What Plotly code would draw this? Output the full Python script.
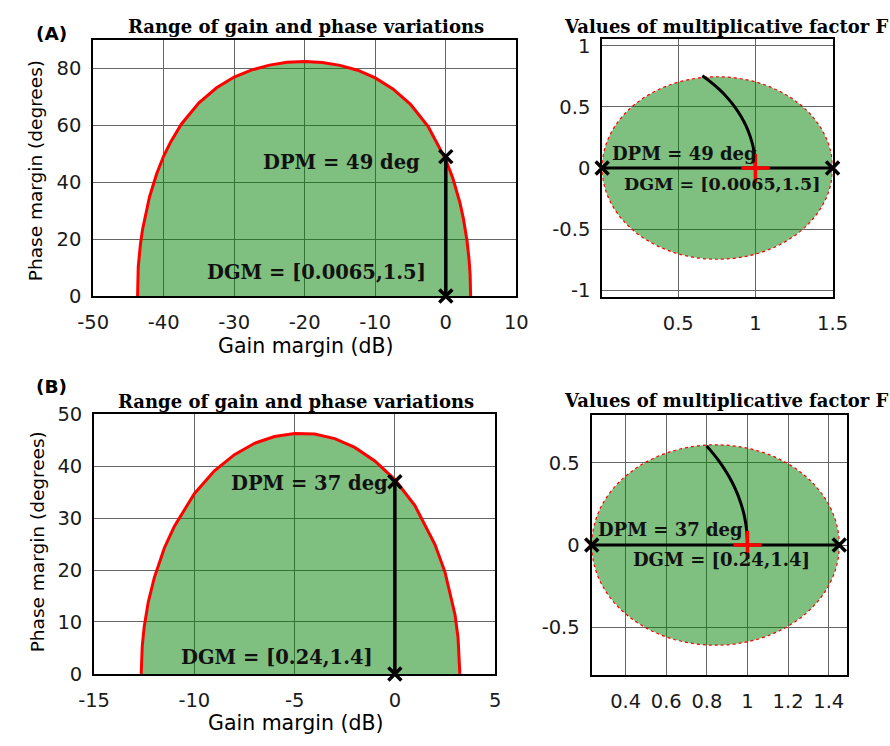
import plotly.graph_objects as go

# ---------------- data ----------------
# Panel A: gain-phase boundary
gain_A_db = [-43.7, -43.6, -43.3, -43.0, -42.0, -41.0, -40.0, -39.0, -37.5, -35.0, -32.5, -30.0,
             -27.5, -25.0, -22.5, -20.0, -17.5, -15.0, -12.5, -10.0, -7.5, -5.0, -2.5, 0.0,
             1.0, 2.0, 2.5, 3.0, 3.3, 3.45, 3.52]
phase_A = [0, 10.3, 18.0, 23.3, 34.9, 42.9, 49.2, 54.2, 60.4, 67.9, 73.2, 77.0,
           79.5, 81.2, 82.2, 82.5, 82.1, 81.1, 79.4, 76.7, 72.8, 67.4, 59.6, 47.9,
           41.4, 32.8, 27.1, 19.6, 12.8, 7.3, 0]
dpm_A = 49
dgm_A = [0.0065, 1.5]
arc_A_re = [1.0, 0.996, 0.985, 0.966, 0.940, 0.906, 0.866, 0.819, 0.766, 0.707, 0.656]
arc_A_im = [0.0, 0.087, 0.174, 0.259, 0.342, 0.423, 0.500, 0.574, 0.643, 0.707, 0.755]

# Panel B
gain_B_db = [-12.65, -12.6, -12.5, -12.3, -12.0, -11.5, -11.0, -10.0, -9.0, -8.0, -7.0, -6.0,
             -5.0, -4.0, -3.0, -2.0, -1.0, 0.0, 1.0, 2.0, 2.5, 3.0, 3.15, 3.24]
phase_B = [0, 5.3, 9.1, 13.8, 18.5, 24.2, 28.4, 34.7, 39.1, 42.2, 44.4, 45.7,
           46.3, 46.2, 45.3, 43.6, 41.0, 37.4, 32.4, 24.9, 19.6, 11.4, 7.0, 0]
dpm_B = 37
dgm_B = [0.233, 1.452]
arc_B_re = [1.0, 0.996, 0.985, 0.966, 0.940, 0.906, 0.866, 0.829, 0.799]
arc_B_im = [0.0, 0.087, 0.174, 0.259, 0.342, 0.423, 0.500, 0.559, 0.602]

label_dpm_A = "DPM = 49 deg"
label_dgm_A = "DGM = [0.0065,1.5]"
label_dpm_B = "DPM = 37 deg"
label_dgm_B = "DGM = [0.24,1.4]"

ticks_x1 = [-50, -40, -30, -20, -10, 0, 10]
ticks_y1 = [0, 20, 40, 60, 80]
ticks_x2 = [0.5, 1, 1.5]
ticks_y2 = [-1, -0.5, 0, 0.5, 1]
ticks_x3 = [-15, -10, -5, 0, 5]
ticks_y3 = [0, 10, 20, 30, 40, 50]
ticks_x4 = [0.4, 0.6, 0.8, 1, 1.2, 1.4]
ticks_y4 = [-0.5, 0, 0.5]

title_left = "Range of gain and phase variations"
title_right = "Values of multiplicative factor F"

# ---------------- styles ----------------
W, H = 890, 746
GREEN = "rgba(0,128,0,0.5)"
GRID = "#666666"
SANS = "DejaVu Sans"
SERIF = "DejaVu Serif"


def fmt(v):
    return ("%g" % v)


def px_dom_x(a, b):
    return [a / W, b / W]


def px_dom_y(top, bottom):
    return [1 - bottom / H, 1 - top / H]


fig = go.Figure()

# ---- Panel A left ----
fig.add_trace(go.Scatter(x=gain_A_db, y=phase_A, mode="lines", fill="tozeroy",
                         fillcolor=GREEN, line=dict(color="red", width=3),
                         xaxis="x", yaxis="y", showlegend=False))
fig.add_trace(go.Scatter(x=[0, 0], y=[0, dpm_A], mode="lines+markers",
                         line=dict(color="black", width=3.5),
                         marker=dict(symbol="x-thin", size=13, line=dict(color="black", width=3.5)),
                         cliponaxis=False, xaxis="x", yaxis="y", showlegend=False))

# ---- Panel A right ----
fig.add_shape(type="circle", xref="x2", yref="y2", x0=dgm_A[0], x1=dgm_A[1],
              y0=-(dgm_A[1] - dgm_A[0]) / 2, y1=(dgm_A[1] - dgm_A[0]) / 2,
              fillcolor=GREEN, line=dict(color="red", width=1.2, dash="dot"), layer="between")
fig.add_trace(go.Scatter(x=arc_A_re, y=arc_A_im, mode="lines", line=dict(color="black", width=3, shape="spline"),
                         xaxis="x2", yaxis="y2", showlegend=False))
fig.add_trace(go.Scatter(x=dgm_A, y=[0, 0], mode="lines+markers",
                         line=dict(color="black", width=3),
                         marker=dict(symbol="x-thin", size=13, line=dict(color="black", width=3.5)),
                         cliponaxis=False, xaxis="x2", yaxis="y2", showlegend=False))
fig.add_trace(go.Scatter(x=[1], y=[0], mode="markers",
                         marker=dict(symbol="cross-thin", size=20, line=dict(color="red", width=3.5)),
                         xaxis="x2", yaxis="y2", showlegend=False))

# ---- Panel B left ----
fig.add_trace(go.Scatter(x=gain_B_db, y=phase_B, mode="lines", fill="tozeroy",
                         fillcolor=GREEN, line=dict(color="red", width=3),
                         xaxis="x3", yaxis="y3", showlegend=False))
fig.add_trace(go.Scatter(x=[0, 0], y=[0, dpm_B], mode="lines+markers",
                         line=dict(color="black", width=3.5),
                         marker=dict(symbol="x-thin", size=13, line=dict(color="black", width=3.5)),
                         cliponaxis=False, xaxis="x3", yaxis="y3", showlegend=False))

# ---- Panel B right ----
fig.add_shape(type="circle", xref="x4", yref="y4", x0=dgm_B[0], x1=dgm_B[1],
              y0=-(dgm_B[1] - dgm_B[0]) / 2, y1=(dgm_B[1] - dgm_B[0]) / 2,
              fillcolor=GREEN, line=dict(color="red", width=1.2, dash="dot"), layer="between")
fig.add_trace(go.Scatter(x=arc_B_re, y=arc_B_im, mode="lines", line=dict(color="black", width=3, shape="spline"),
                         xaxis="x4", yaxis="y4", showlegend=False))
fig.add_trace(go.Scatter(x=dgm_B, y=[0, 0], mode="lines+markers",
                         line=dict(color="black", width=3),
                         marker=dict(symbol="x-thin", size=13, line=dict(color="black", width=3.5)),
                         cliponaxis=False, xaxis="x4", yaxis="y4", showlegend=False))
fig.add_trace(go.Scatter(x=[1], y=[0], mode="markers",
                         marker=dict(symbol="cross-thin", size=20, line=dict(color="red", width=3.5)),
                         xaxis="x4", yaxis="y4", showlegend=False))


def axis(dom, rng, ticks, anchor, side):
    return dict(domain=dom, range=rng, anchor=anchor, tickvals=ticks,
                ticktext=[fmt(t) for t in ticks], showgrid=True, gridcolor=GRID, gridwidth=1.3,
                zeroline=False, showline=True, linecolor="black", linewidth=1.8, mirror=True,
                ticks="", ticklabelstandoff=6 if side == "y" else 8,
                tickfont=dict(family=SANS, size=19.5, color="#1a1a1a"), fixedrange=True)


fig.update_layout(
    width=W, height=H, margin=dict(l=0, r=0, t=0, b=0),
    paper_bgcolor="white", plot_bgcolor="white",
    xaxis=axis(px_dom_x(80, 519), [-50, 10], ticks_x1, "y", "x"),
    yaxis=axis(px_dom_y(30, 294), [0, 90], ticks_y1, "x", "y"),
    xaxis2=axis(px_dom_x(608, 847), [dgm_A[0], 1.5], ticks_x2, "y2", "x"),
    yaxis2=axis(px_dom_y(29, 295), [-1.055, 1.055], ticks_y2, "x2", "y"),
    xaxis3=axis(px_dom_x(81, 497), [-15, 5], ticks_x3, "y3", "x"),
    yaxis3=axis(px_dom_y(416, 684), [0, 50], ticks_y3, "x3", "y"),
    xaxis4=axis(px_dom_x(597, 862), [0.232, 1.49], ticks_x4, "y4", "x"),
    yaxis4=axis(px_dom_y(417, 685), [-0.79, 0.79], ticks_y4, "x4", "y"),
)

ann = []


def paper_text(text, x, y, size, family, bold=False, xanchor="center", angle=0):
    ann.append(dict(text=("<b>%s</b>" % text) if bold else text, x=x / W, y=1 - y / H,
                    xref="paper", yref="paper", xanchor=xanchor, yanchor="middle",
                    showarrow=False, textangle=angle,
                    font=dict(family=family, size=size, color="black")))


def data_text(text, x, y, xr, yr, size, xanchor):
    ann.append(dict(text="<b>%s</b>" % text, x=x, y=y, xref=xr, yref=yr, xanchor=xanchor,
                    yanchor="middle", showarrow=False,
                    font=dict(family=SERIF, size=size, color="#111")))


# panel labels
paper_text("(A)", 37, 23, 18.5, SANS, bold=True)
paper_text("(B)", 37, 387, 18.5, SANS, bold=True)
# titles
paper_text(title_left, 301, 16, 18, SERIF, bold=True)
paper_text(title_right, 566, 16, 18, SERIF, bold=True, xanchor="left")
paper_text(title_left, 290, 403, 18, SERIF, bold=True)
paper_text(title_right, 566, 402, 18, SERIF, bold=True, xanchor="left")
# axis titles
paper_text("Gain margin (dB)", 301, 346, 20.5, SANS)
paper_text("Gain margin (dB)", 290, 735, 20.5, SANS)
paper_text("Phase margin (degrees)", 21, 165, 18.5, SANS, angle=-90)
paper_text("Phase margin (degrees)", 22, 548, 18.5, SANS, angle=-90)

# in-plot labels
data_text(label_dpm_A, -3.4, 47, "x", "y", 19.5, "right")
data_text(label_dgm_A, -34.1, 8.2, "x", "y", 19.5, "left")
data_text(label_dpm_A, 0.057, 0.12, "x2", "y2", 18, "left")
data_text(label_dgm_A, 0.133, -0.127, "x2", "y2", 17.5, "left")
data_text(label_dpm_B, -8.27, 36.6, "x3", "y3", 19.5, "left")
data_text(label_dgm_B, -10.77, 3.1, "x3", "y3", 19.5, "left")
data_text(label_dpm_B, 0.252, 0.094, "x4", "y4", 18, "left")
data_text(label_dgm_B, 0.427, -0.088, "x4", "y4", 18, "left")

fig.update_layout(annotations=ann)
fig.write_html("out.html")
